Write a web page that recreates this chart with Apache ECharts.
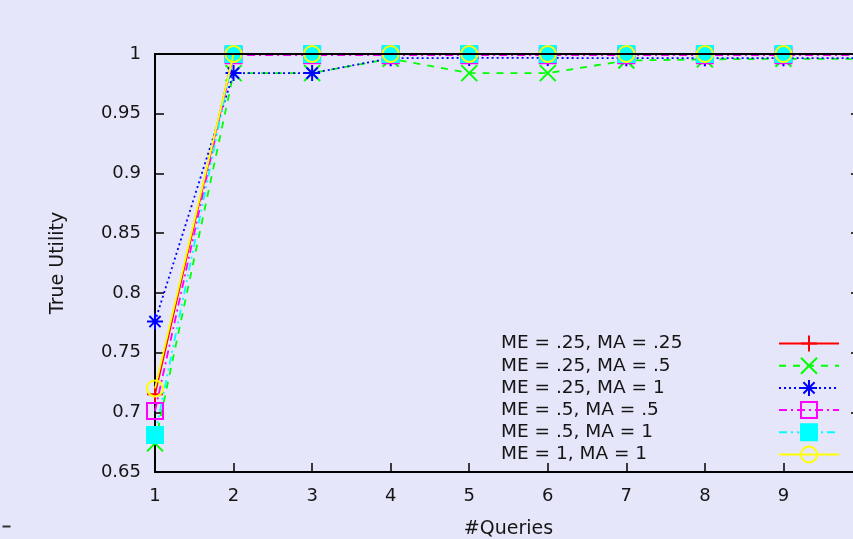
<!DOCTYPE html>
<html><head><meta charset="utf-8">
<script src="https://cdn.jsdelivr.net/npm/echarts@6/dist/echarts.min.js"></script>
<style>html,body{margin:0;padding:0;background:#e6e6fa;overflow:hidden;width:853px;height:539px}#c{width:863px;height:539px}</style>
</head><body><div id="c"></div>
<script>
const queries = [1, 2, 3, 4, 5, 6, 7, 8, 9, 10];
const seriesNames = [
  'ME = .25, MA = .25',
  'ME = .25, MA = .5',
  'ME = .25, MA = 1',
  'ME = .5, MA = .5',
  'ME = .5, MA = 1',
  'ME = 1, MA = 1'
];
const me25ma25 = [0.715, 1, 1, 1, 1, 1, 1, 1, 1, 1];
const me25ma5  = [0.674, 0.984, 0.984, 0.996, 0.984, 0.984, 0.9945, 0.9955, 0.996, 0.996];
const me25ma1  = [0.776, 0.984, 0.984, 0.9965, 0.9967, 0.9967, 0.9965, 0.9965, 0.9965, 0.9965];
const me5ma5   = [0.701, 0.999, 0.999, 0.999, 0.999, 0.999, 0.999, 0.999, 0.999, 0.999];
const me5ma1   = [0.681, 1, 1, 1, 1, 1, 1, 1, 1, 1];
const me1ma1   = [0.720, 1, 1, 1, 1, 1, 1, 1, 1, 1];
const yTicks = [0.65, 0.7, 0.75, 0.8, 0.85, 0.9, 0.95, 1];

const values = [me25ma25, me25ma5, me25ma1, me5ma5, me5ma1, me1ma1];
const colors = ['#ff0000', '#00ff00', '#0000ff', '#ff00ff', '#00ffff', '#ffff00'];
const dashes = ['solid', [7, 7], [2, 3], [8, 4, 2, 4], [8, 4, 2, 4, 2, 4], 'solid'];
const symbols = [
  'path://M1,0L1,2M0,1L2,1',
  'path://M0,0L2,2M0,2L2,0',
  'path://M1,0L1,2M0,1L2,1M0.3,0.3L1.7,1.7M0.3,1.7L1.7,0.3',
  'rect',
  'rect',
  'circle'
];
const fills = ['rgba(0,0,0,0)', 'rgba(0,0,0,0)', 'rgba(0,0,0,0)', 'rgba(0,0,0,0)', null, 'rgba(0,0,0,0)'];
const sizes = [16, 16, 16, 16, 16, 16];

const txt = '#151515';
const FONT = 'DejaVu Sans';

const series = values.map((vals, i) => ({
  name: seriesNames[i],
  type: 'line',
  data: queries.map((q, j) => [q, vals[j]]),
  symbol: symbols[i],
  symbolSize: sizes[i],
  showAllSymbol: true,
  lineStyle: { color: colors[i], width: 1.8, type: dashes[i] },
  itemStyle: { color: fills[i] || colors[i], borderColor: colors[i], borderWidth: 2 },
  emphasis: { disabled: true },
  z: 3 + i
}));

const chart = echarts.init(document.getElementById('c'), null, { renderer: 'canvas' });
chart.setOption({
  animation: false,
  backgroundColor: '#e6e6fa',
  textStyle: { fontFamily: FONT },
  grid: { left: 155, right: 1, top: 54, bottom: 67, containLabel: false, outerBoundsMode: 'none' },
  legend: {
    orient: 'vertical',
    align: 'right',
    left: 496,
    top: 329,
    itemWidth: 60,
    itemHeight: 20,
    itemGap: 3.2,
    selectedMode: false,
    data: seriesNames,
    formatter: n => '{t|' + n + '}',
    lineStyle: { width: 2 },
    textStyle: {
      color: txt, fontFamily: FONT, fontSize: 18.5,
      rich: { t: { width: 273, align: 'left', fontSize: 18.5, color: txt, fontFamily: FONT } }
    }
  },
  graphic: [{
    type: 'line', left: 0, top: 524,
    shape: { x1: 0, y1: 0, x2: 8, y2: 0 },
    style: { stroke: '#333', lineWidth: 2 }
  }],
  xAxis: [{
    type: 'value', min: 1, max: 10, interval: 1,
    name: '#Queries', nameLocation: 'middle', nameGap: 48,
    nameTextStyle: { fontSize: 19, color: txt, fontFamily: FONT },
    axisLine: { show: true, lineStyle: { color: '#000', width: 2 } },
    axisTick: { show: true, inside: true, length: 9, lineStyle: { color: '#000', width: 1.5 } },
    axisLabel: { fontSize: 18, color: txt, margin: 15, showMaxLabel: false, fontFamily: FONT },
    splitLine: { show: false }
  }, {
    type: 'value', min: 1, max: 10, interval: 1, position: 'top', z: 20,
    axisLine: { show: true, onZero: false, lineStyle: { color: '#000', width: 2.2 } },
    axisTick: { show: false },
    axisLabel: { show: false },
    splitLine: { show: false }
  }],
  yAxis: [{
    type: 'value', min: 0.65, max: 1, interval: 0.05,
    name: 'True Utility', nameLocation: 'middle', nameGap: 87, nameRotate: 90,
    nameTextStyle: { fontSize: 19, color: txt, fontFamily: FONT },
    axisLine: { show: true, lineStyle: { color: '#000', width: 2 } },
    axisTick: { show: true, inside: true, length: 9, lineStyle: { color: '#000', width: 1.5 } },
    axisLabel: { fontSize: 18, color: txt, margin: 14, fontFamily: FONT,
      formatter: v => String(+v.toFixed(2)) },
    splitLine: { show: false }
  }, {
    type: 'value', min: 0.65, max: 1, interval: 0.05, position: 'right',
    axisLine: { show: true, onZero: false, lineStyle: { color: '#000', width: 2 } },
    axisTick: { show: true, inside: true, length: 11, lineStyle: { color: '#000', width: 1.5 } },
    axisLabel: { show: false },
    splitLine: { show: false }
  }],
  series: series
});
</script>
</body></html>
